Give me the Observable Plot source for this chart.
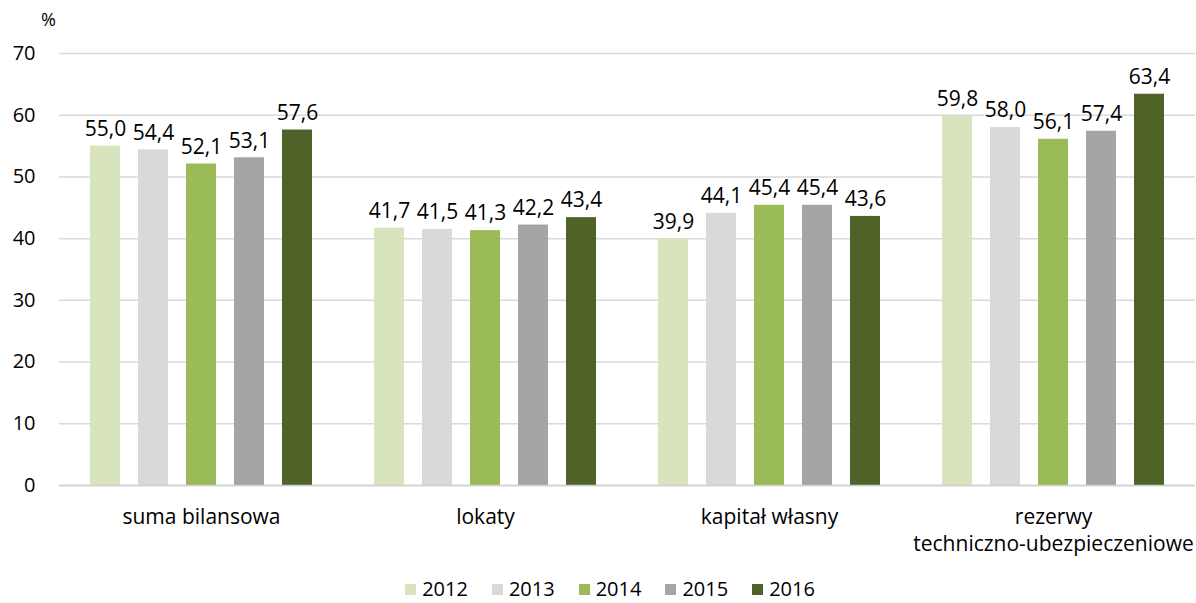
<!DOCTYPE html>
<html><head><meta charset="utf-8">
<script src="https://cdn.jsdelivr.net/npm/d3@7"></script>
<script src="https://cdn.jsdelivr.net/npm/@observablehq/plot@0.6"></script>
<style>
body{margin:0;background:#fff;font-family:"Open Sans",sans-serif;}
#wrap{position:relative;width:1196px;height:603px;}
#unit{position:absolute;left:41px;top:8px;font-size:18px;line-height:22px;color:#000;}
#legend{position:absolute;left:0;top:576px;height:26px;width:1196px;display:flex;justify-content:center;padding-left:24px;box-sizing:border-box;font-size:20px;line-height:26px;gap:24px;}
#legend .it{display:flex;align-items:center;gap:6px;}
#legend .sw{width:11px;height:11px;display:inline-block;}
</style></head>
<body><div id="wrap"><div id="unit">%</div><div id="chart"></div><div id="legend"></div></div>
<script>
const categories = ["suma bilansowa","lokaty","kapitał własny","rezerwy\ntechniczno-ubezpieczeniowe"];
const years = ["2012","2013","2014","2015","2016"];
const v2012 = [55.0, 41.7, 39.9, 59.8];
const v2013 = [54.4, 41.5, 44.1, 58.0];
const v2014 = [52.1, 41.3, 45.4, 56.1];
const v2015 = [53.1, 42.2, 45.4, 57.4];
const v2016 = [57.6, 43.4, 43.6, 63.4];
const colors = ["#d7e4bd","#d9d9d9","#9bbb59","#a5a5a5","#4f6228"];
const yTicks = [0,10,20,30,40,50,60,70];

const series = [v2012, v2013, v2014, v2015, v2016];
const data = [];
categories.forEach((c, i) => years.forEach((y, j) => data.push({cat: c, year: y, value: series[j][i]})));
const fmt = d => d.toFixed(1).replace(".", ",");

const chart = Plot.plot({
  width: 1196, height: 570,
  marginTop: 53, marginBottom: 85, marginLeft: 57, marginRight: 0,
  style: {fontFamily: "'Open Sans', sans-serif", fontSize: "20px", color: "#000", background: "#fff"},
  fx: {domain: categories, padding: 0, label: null},
  x: {domain: years, paddingInner: 0.38, paddingOuter: 0.62, axis: null},
  y: {domain: [0, 70], axis: null},
  color: {domain: years, range: colors},
  marks: [
    Plot.gridY(yTicks, {stroke: "#d9d9d9", strokeOpacity: 1, strokeWidth: 1.5}),
    Plot.axisY(yTicks, {anchor: "left", tickSize: 0, tickPadding: 24, line: true, stroke: "#d9d9d9", strokeWidth: 1.5, fill: "#000", fontSize: 20, label: null}),
    Plot.axisFx({anchor: "bottom", tickSize: 0, tickPadding: 19, fontSize: 21, lineHeight: 1.3, label: null}),
    Plot.barY(data, {fx: "cat", x: "year", y: "value", fill: "year"}),
    Plot.ruleY([0], {stroke: "#d0d0d0", strokeWidth: 1.5}),
    Plot.text(data, {fx: "cat", x: "year", y: "value", text: d => fmt(d.value), dy: -17, fontSize: 21, fill: "#000"})
  ]
});
document.getElementById("chart").appendChild(chart);

const leg = document.getElementById("legend");
years.forEach((y, j) => {
  const it = document.createElement("div"); it.className = "it";
  const sw = document.createElement("span"); sw.className = "sw"; sw.style.background = colors[j];
  const t = document.createElement("span"); t.textContent = y;
  it.appendChild(sw); it.appendChild(t); leg.appendChild(it);
});
</script></body></html>
